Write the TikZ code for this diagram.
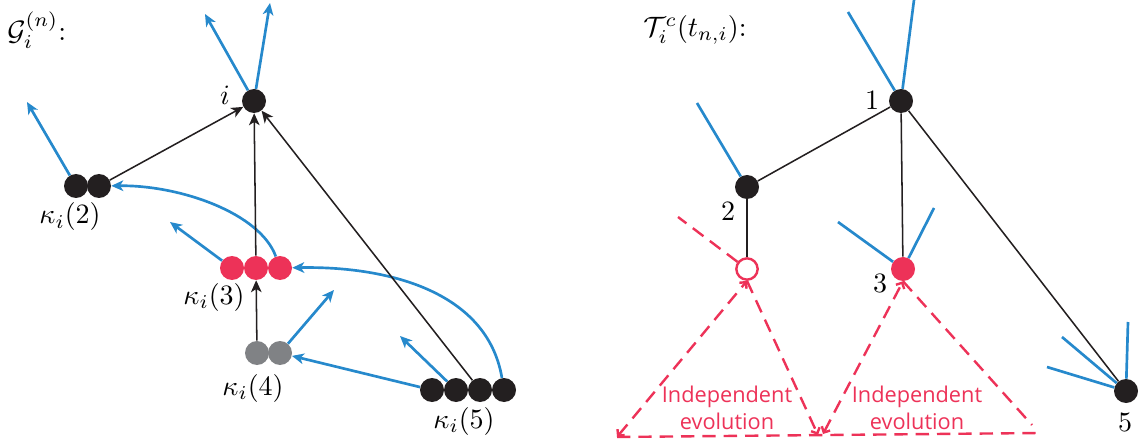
\documentclass[tikz,border=0pt]{standalone}
\usepackage{fontspec}
\newfontfamily\evofont{Open Sans}
\usetikzlibrary{arrows.meta}
\definecolor{myblue}{RGB}{38,137,204}
\definecolor{myred}{RGB}{237,50,88}
\definecolor{mygray}{RGB}{128,130,133}
\definecolor{myblack}{RGB}{35,31,32}
\newcommand{\mylbl}[1]{\scalebox{2.1}{#1}}
\begin{document}
\begin{tikzpicture}[x=0.75pt,y=-0.75pt,
  blk/.style={circle,fill=myblack,inner sep=0pt,minimum size=18pt},
  redd/.style={circle,fill=myred,inner sep=0pt,minimum size=18pt},
  grayd/.style={circle,fill=mygray,inner sep=0pt,minimum size=18pt},
  openred/.style={circle,draw=myred,line width=1.8pt,fill=white,inner sep=0pt,minimum size=16pt},
  lbl/.style={inner sep=0pt},
  evo/.style={inner sep=0pt,align=center,text=myred,font=\evofont\fontsize{16.3}{20}\selectfont},
  blackarrow/.style={draw=myblack,line width=1.15pt,-{Stealth[length=9pt,width=8pt,inset=2.5pt]}},
  bluearrow/.style={draw=myblue,line width=2pt,-{Stealth[length=9pt,width=8pt,inset=2.5pt]}},
  blackline/.style={draw=myblack,line width=1.15pt},
  blueline/.style={draw=myblue,line width=2pt},
  reddash/.style={draw=myred,line width=1.8pt,dash pattern=on 10pt off 6pt},
  tipboth/.style={{Straight Barb[length=3.5pt,width=7pt]}-{Straight Barb[length=3.5pt,width=7pt]}},
  tipend/.style={-{Straight Barb[length=3.5pt,width=7pt]}}
]
\useasboundingbox (0,0) rectangle (1145,445);

% ---------------- left panel ----------------
\node[lbl,anchor=west] (tg) at (7,30) {\mylbl{$\mathcal{G}_i^{(n)}$:}};

\node[blk] (i) at (254,101) {};
\node[lbl] (li) at (225,95) {\mylbl{$i$}};

\node[blk] (k2a) at (76,186) {};
\node[blk] (k2b) at (99,186) {};
\node[lbl] (l2) at (70,217) {\mylbl{$\kappa_i(2)$}};

\node[redd] (k3a) at (232,268) {};
\node[redd] (k3b) at (256,268) {};
\node[redd] (k3c) at (280,268) {};
\node[lbl] (l3) at (214,297) {\mylbl{$\kappa_i(3)$}};

\node[grayd] (k4a) at (257,353) {};
\node[grayd] (k4b) at (280,353) {};
\node[lbl] (l4) at (253,388) {\mylbl{$\kappa_i(4)$}};

\node[blk] (k5a) at (432,390) {};
\node[blk] (k5b) at (456,390) {};
\node[blk] (k5c) at (480,390) {};
\node[blk] (k5d) at (504,390) {};
\node[lbl] (l5) at (464,421) {\mylbl{$\kappa_i(5)$}};

\coordinate (io1) at (205,14);
\coordinate (io2) at (270,3);
\coordinate (k2o) at (27,102);
\coordinate (k3o) at (170,222);
\coordinate (k4o) at (334,290);
\coordinate (k5o) at (400,336);

\draw[bluearrow] (i) -- (io1);
\draw[bluearrow] (i) -- (io2);
\draw[bluearrow] (k2a) -- (k2o);
\draw[bluearrow] (k3a) -- (k3o);
\draw[bluearrow] (k4b) -- (k4o);
\draw[bluearrow] (k5b) -- (k5o);
\draw[bluearrow] (k5a) -- (k4b);
\draw[bluearrow] (k3c) .. controls (260,213) and (180,185) .. (k2b);
\draw[bluearrow] (k5d) .. controls (487,290) and (385,266) .. (k3c);

\draw[blackarrow] (k2b) -- (i);
\draw[blackarrow] (k3b) -- (i);
\draw[blackarrow] (k4a) -- (k3b);
\draw[blackarrow] (k5c) -- (i);

% ---------------- right panel ----------------
\node[lbl,anchor=west] (tt) at (643,30) {\mylbl{$\mathcal{T}_i^c(t_{n,i})$:}};

\node[blk] (n1) at (901,101) {};
\node[blk] (n2) at (747,187) {};
\node[openred] (n2o) at (747,269) {};
\node[redd] (n3) at (903,269) {};
\node[blk] (n5) at (1126,391) {};
\node[lbl] (m1) at (872,100) {\mylbl{$1$}};
\node[lbl] (m2) at (728,211) {\mylbl{$2$}};
\node[lbl] (m3) at (880,283) {\mylbl{$3$}};
\node[lbl] (m5) at (1125,422) {\mylbl{$5$}};

\coordinate (b1a) at (848,12);
\coordinate (b1b) at (914,0);
\coordinate (b2a) at (697,103);
\coordinate (b3a) at (838,222);
\coordinate (b3b) at (934,208);
\coordinate (b5a) at (1128,322);
\coordinate (b5b) at (1062,337);
\coordinate (b5c) at (1047,367);

\draw[blueline] (n1) -- (b1a);
\draw[blueline] (n1) -- (b1b);
\draw[blueline] (n2) -- (b2a);
\draw[blueline] (n3) -- (b3a);
\draw[blueline] (n3) -- (b3b);
\draw[blueline] (n5) -- (b5a);
\draw[blueline] (n5) -- (b5b);
\draw[blueline] (n5) -- (b5c);

\draw[blackline] (n1) -- (n2);
\draw[blackline] (n1) -- (n3);
\draw[blackline] (n1) -- (n5);
\draw[blackline] (n2) -- (n2o);

\coordinate (d0) at (678,217);
\coordinate (t1l) at (617,437);
\coordinate (t1r) at (818,435);
\coordinate (t2l) at (823,434);
\coordinate (t2r) at (1032,425);
\coordinate (bend) at (1040,433);

\draw[reddash] (n2o) -- (d0);
\draw[reddash,tipboth] (t1l) -- (n2o.south);
\draw[reddash,tipend] (n2o.south) -- (t1r);
\draw[reddash,tipboth] (t2l) -- (n3.south);
\draw[reddash] (n3.south) -- (t2r);
\draw[reddash] (t1l) -- (bend);

\node[evo] (e1) at (727,408) {Independent\\evolution};
\node[evo] (e2) at (917,408) {Independent\\evolution};
\end{tikzpicture}
\end{document}
